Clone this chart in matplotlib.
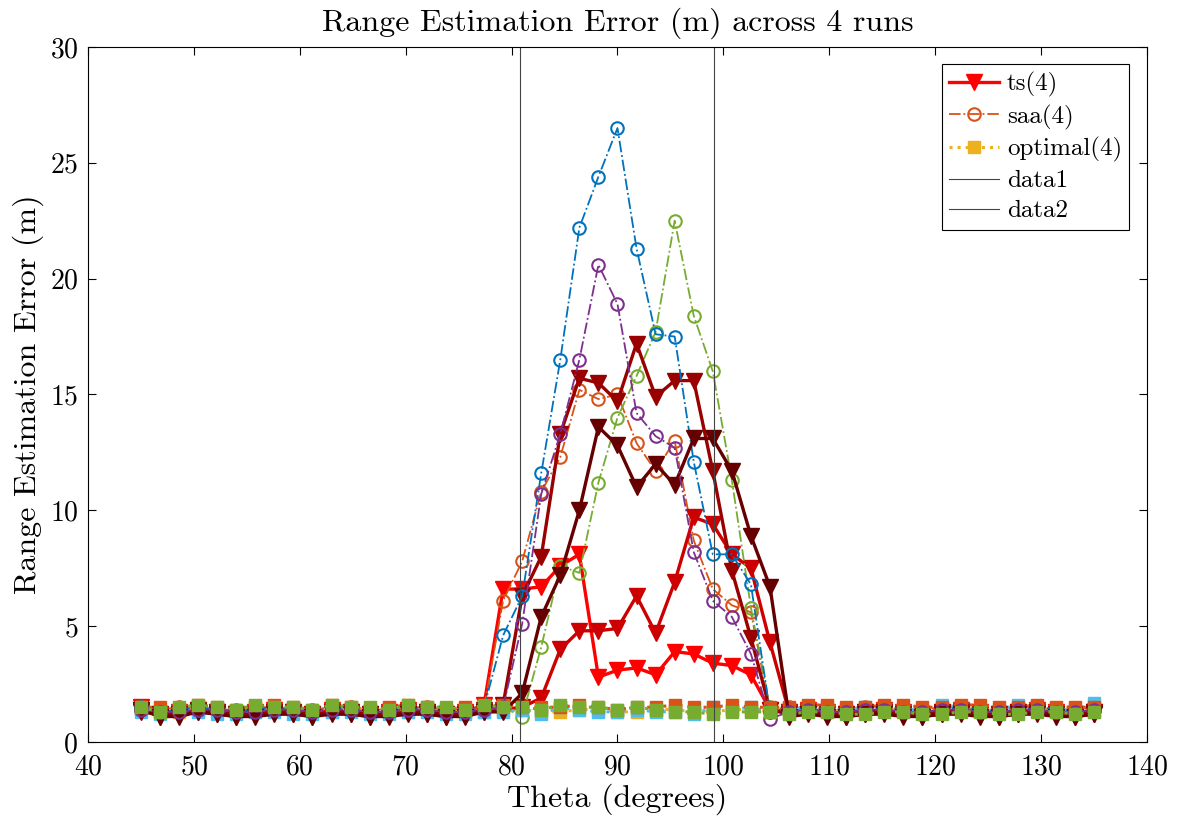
import matplotlib.pyplot as plt

plt.rcParams['font.family'] = 'cmr10'
plt.rcParams['mathtext.fontset'] = 'cm'
plt.rcParams['axes.formatter.use_mathtext'] = True

# theta grid (degrees)
theta = [45.0, 46.8, 48.6, 50.4, 52.2, 54.0, 55.8, 57.6, 59.4, 61.2,
         63.0, 64.8, 66.6, 68.4, 70.2, 72.0, 73.8, 75.6, 77.4, 79.2,
         81.0, 82.8, 84.6, 86.4, 88.2, 90.0, 91.8, 93.6, 95.4, 97.2,
         99.0, 100.8, 102.6, 104.4, 106.2, 108.0, 109.8, 111.6, 113.4, 115.2,
         117.0, 118.8, 120.6, 122.4, 124.2, 126.0, 127.8, 129.6, 131.4, 133.2,
         135.0]

# ts runs
ts_run1 = [1.5, 1.2, 1.3, 1.4, 1.3, 1.2, 1.3, 1.4, 1.3, 1.2,
           1.4, 1.3, 1.2, 1.3, 1.4, 1.3, 1.2, 1.3, 1.6, 6.6,
           6.6, 6.7, 7.6, 8.1, 2.8, 3.1, 3.2, 2.9, 3.9, 3.8,
           3.4, 3.3, 2.9, 1.4, 1.3, 1.4, 1.3, 1.2, 1.3, 1.4,
           1.3, 1.2, 1.3, 1.4, 1.3, 1.2, 1.3, 1.4, 1.3, 1.2, 1.3]
ts_run2 = [1.4, 1.1, 1.2, 1.3, 1.2, 1.1, 1.2, 1.3, 1.2, 1.1,
           1.3, 1.2, 1.1, 1.2, 1.3, 1.2, 1.1, 1.2, 1.3, 1.4,
           1.5, 1.9, 4.0, 4.8, 4.8, 4.9, 6.3, 4.7, 6.9, 9.7,
           9.4, 8.1, 7.5, 4.3, 1.3, 1.3, 1.2, 1.1, 1.2, 1.3,
           1.2, 1.1, 1.2, 1.3, 1.2, 1.1, 1.2, 1.3, 1.2, 1.1, 1.2]
ts_run3 = [1.3, 1.2, 1.2, 1.4, 1.3, 1.2, 1.2, 1.3, 1.3, 1.2,
           1.3, 1.3, 1.2, 1.2, 1.3, 1.3, 1.2, 1.2, 1.4, 1.6,
           6.3, 8.0, 13.3, 15.7, 15.5, 14.7, 17.2, 14.9, 15.6, 15.6,
           11.7, 7.4, 4.5, 1.4, 1.2, 1.3, 1.2, 1.2, 1.3, 1.3,
           1.2, 1.2, 1.3, 1.3, 1.2, 1.2, 1.3, 1.3, 1.2, 1.2, 1.3]
ts_run4 = [1.4, 1.1, 1.1, 1.3, 1.2, 1.1, 1.1, 1.2, 1.2, 1.1,
           1.2, 1.2, 1.1, 1.1, 1.2, 1.2, 1.1, 1.1, 1.3, 1.3,
           2.1, 5.4, 7.2, 10.0, 13.6, 12.8, 11.0, 12.0, 11.1, 13.1,
           13.1, 11.7, 8.9, 6.7, 1.1, 1.2, 1.1, 1.1, 1.2, 1.2,
           1.1, 1.1, 1.2, 1.2, 1.1, 1.1, 1.2, 1.2, 1.1, 1.1, 1.2]

# saa runs
saa_run1 = [1.5, 1.4, 1.5, 1.5, 1.4, 1.4, 1.5, 1.5, 1.4, 1.4,
            1.5, 1.5, 1.4, 1.4, 1.5, 1.5, 1.4, 1.4, 1.5, 6.1,
            7.8, 10.8, 12.3, 15.2, 14.8, 15.0, 12.9, 11.7, 13.0, 8.7,
            6.6, 5.9, 5.6, 1.4, 1.5, 1.5, 1.4, 1.4, 1.5, 1.5,
            1.4, 1.4, 1.5, 1.5, 1.4, 1.4, 1.5, 1.5, 1.4, 1.4, 1.5]
saa_run2 = [1.4, 1.3, 1.4, 1.4, 1.3, 1.3, 1.4, 1.4, 1.3, 1.3,
            1.4, 1.4, 1.3, 1.3, 1.4, 1.4, 1.3, 1.3, 1.4, 1.5,
            1.1, 4.1, 7.6, 7.3, 11.2, 14.0, 15.8, 17.7, 22.5, 18.4,
            16.0, 11.3, 5.8, 1.5, 1.3, 1.4, 1.3, 1.3, 1.4, 1.4,
            1.3, 1.3, 1.4, 1.4, 1.3, 1.3, 1.4, 1.4, 1.3, 1.3, 1.4]
saa_run3 = [1.5, 1.3, 1.4, 1.5, 1.4, 1.3, 1.4, 1.5, 1.4, 1.3,
            1.5, 1.4, 1.3, 1.4, 1.5, 1.4, 1.3, 1.4, 1.5, 4.6,
            6.3, 11.6, 16.5, 22.2, 24.4, 26.5, 21.3, 17.6, 17.5, 12.1,
            8.1, 8.1, 6.8, 1.3, 1.4, 1.5, 1.4, 1.3, 1.4, 1.5,
            1.4, 1.3, 1.4, 1.5, 1.4, 1.3, 1.4, 1.5, 1.4, 1.3, 1.4]
saa_run4 = [1.4, 1.3, 1.3, 1.4, 1.4, 1.3, 1.3, 1.4, 1.4, 1.3,
            1.4, 1.4, 1.3, 1.3, 1.4, 1.4, 1.3, 1.3, 1.4, 1.5,
            5.1, 10.7, 13.3, 16.5, 20.6, 18.9, 14.2, 13.2, 12.7, 8.2,
            6.1, 5.4, 3.8, 1.0, 1.3, 1.4, 1.3, 1.3, 1.4, 1.4,
            1.3, 1.3, 1.4, 1.4, 1.3, 1.3, 1.4, 1.4, 1.3, 1.3, 1.4]

# optimal runs
opt_run1 = [1.4, 1.3, 1.3, 1.4, 1.4, 1.3, 1.3, 1.4, 1.4, 1.3,
            1.3, 1.4, 1.4, 1.3, 1.3, 1.4, 1.4, 1.3, 1.3, 1.4,
            1.4, 1.3, 1.3, 1.4, 1.4, 1.3, 1.3, 1.4, 1.4, 1.3,
            1.3, 1.4, 1.4, 1.3, 1.3, 1.4, 1.4, 1.3, 1.3, 1.4,
            1.4, 1.3, 1.3, 1.4, 1.4, 1.3, 1.3, 1.4, 1.4, 1.3, 1.3]
opt_run2 = [1.3, 1.2, 1.4, 1.3, 1.2, 1.2, 1.3, 1.3, 1.2, 1.2,
            1.3, 1.3, 1.2, 1.2, 1.3, 1.3, 1.2, 1.2, 1.3, 1.3,
            1.4, 1.2, 1.5, 1.4, 1.3, 1.3, 1.4, 1.3, 1.3, 1.2,
            1.5, 1.4, 1.5, 1.3, 1.4, 1.5, 1.5, 1.4, 1.5, 1.5,
            1.4, 1.4, 1.6, 1.5, 1.4, 1.4, 1.6, 1.5, 1.4, 1.4, 1.7]
opt_run3 = [1.5, 1.5, 1.4, 1.6, 1.5, 1.4, 1.5, 1.6, 1.5, 1.4,
            1.6, 1.5, 1.4, 1.5, 1.6, 1.5, 1.4, 1.5, 1.5, 1.6,
            1.5, 1.5, 1.5, 1.6, 1.5, 1.4, 1.5, 1.5, 1.6, 1.5,
            1.5, 1.6, 1.5, 1.5, 1.5, 1.6, 1.6, 1.5, 1.5, 1.6,
            1.6, 1.5, 1.5, 1.6, 1.6, 1.5, 1.5, 1.6, 1.5, 1.5, 1.5]
opt_run4 = [1.5, 1.3, 1.5, 1.6, 1.5, 1.4, 1.6, 1.5, 1.5, 1.4,
            1.6, 1.5, 1.5, 1.4, 1.6, 1.5, 1.5, 1.4, 1.6, 1.5,
            1.5, 1.4, 1.6, 1.5, 1.5, 1.4, 1.5, 1.4, 1.3, 1.3,
            1.2, 1.3, 1.3, 1.3, 1.2, 1.3, 1.3, 1.2, 1.2, 1.3,
            1.3, 1.2, 1.2, 1.3, 1.3, 1.2, 1.2, 1.3, 1.3, 1.2, 1.3]

ts_colors = ['#ff0000', '#cc0000', '#990000', '#660000']
saa_colors = ['#d95319', '#77ac30', '#0072bd', '#7e2f8e']
opt_colors = ['#edb120', '#4dbeee', '#d95319', '#77ac30']

ts_runs = [ts_run1, ts_run2, ts_run3, ts_run4]
saa_runs = [saa_run1, saa_run2, saa_run3, saa_run4]
opt_runs = [opt_run1, opt_run2, opt_run3, opt_run4]

vlines = [80.8, 99.1]

fig = plt.figure(figsize=(11.81, 8.27), dpi=100)
ax = fig.add_axes([0.0745, 0.1028, 0.8967, 0.8404])

handles = []
for i in range(4):
    h1, = ax.plot(theta, ts_runs[i], '-v', color=ts_colors[i], lw=2.4,
                  ms=12, mfc=ts_colors[i], mec=ts_colors[i])
    h2, = ax.plot(theta, saa_runs[i], '-.o', color=saa_colors[i], lw=1.3,
                  ms=9, mfc='none', mew=1.5)
    h3, = ax.plot(theta, opt_runs[i], ':s', color=opt_colors[i], lw=2.2,
                  ms=8, mfc=opt_colors[i])
    if i == 0:
        handles += [h1, h2, h3]

for v in vlines:
    h = ax.axvline(v, color='#444444', lw=0.8)
    handles.append(h)

ax.set_xlim(40, 140)
ax.set_ylim(0, 30)
ax.set_xticks(range(40, 141, 10))
ax.set_yticks(range(0, 31, 5))
ax.tick_params(direction='in', top=True, right=True, labelsize=20, length=6)
ax.tick_params(axis='x', pad=9)
ax.tick_params(axis='y', pad=7)
for s in ax.spines.values():
    s.set_linewidth(0.8)

ax.set_title('Range Estimation Error (m) across 4 runs', fontsize=23, pad=12)
ax.set_xlabel('Theta (degrees)', fontsize=23, labelpad=2)
ax.set_ylabel('Range Estimation Error (m)', fontsize=23, labelpad=4)

leg = ax.legend(handles, ['ts(4)', 'saa(4)', 'optimal(4)', 'data1', 'data2'],
                loc='upper right', fontsize=18, fancybox=False, framealpha=1,
                edgecolor='black', handlelength=2.0, handletextpad=0.3,
                borderpad=0.3, labelspacing=0.3, borderaxespad=0.7)
leg.get_frame().set_linewidth(0.8)

fig.savefig('out.png', dpi=100)
